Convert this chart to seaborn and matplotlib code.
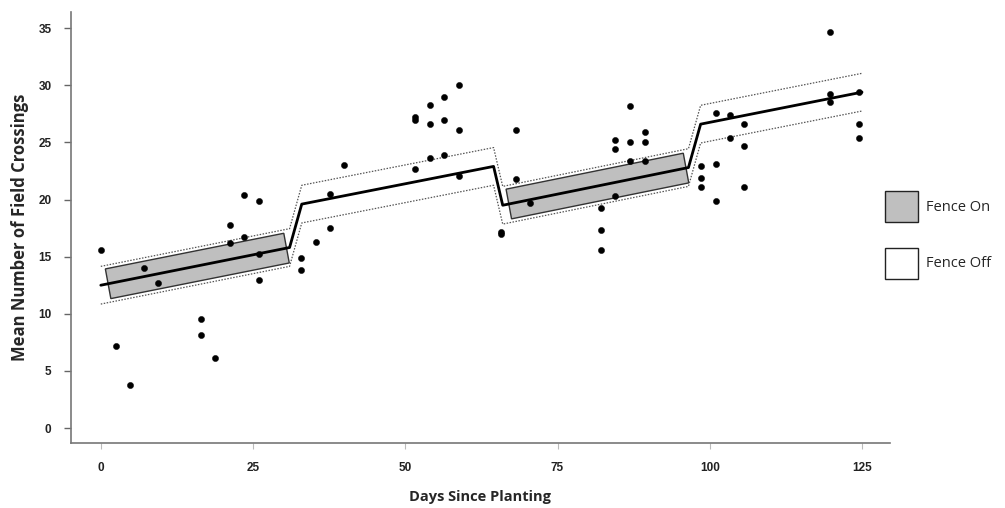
import numpy as np
import pandas as pd
import matplotlib
matplotlib.use("Agg")
import matplotlib.pyplot as plt
from matplotlib.patches import Patch
import seaborn as sns

# Observed mean field crossings by day since planting
obs_days = [0.0, 2.5, 4.8, 7.1, 9.4, 16.5, 16.5, 18.8, 21.2, 21.2, 23.5, 23.5,
            26.0, 26.0, 26.0, 32.9, 32.9, 35.3, 37.6, 37.6, 39.9, 51.6, 51.6,
            51.6, 54.0, 54.0, 54.0, 56.4, 56.4, 56.4, 58.8, 58.8, 58.8, 65.7,
            65.7, 68.1, 68.1, 70.4, 82.2, 82.2, 82.2, 84.4, 84.4, 84.4, 86.9,
            86.9, 86.9, 89.3, 89.3, 89.3, 98.6, 98.6, 98.6, 101.0, 101.0,
            101.0, 103.3, 103.3, 105.6, 105.6, 105.6, 119.8, 119.8, 119.8,
            124.5, 124.5, 124.5]
obs_crossings = [15.6, 7.2, 3.8, 14.0, 12.7, 9.5, 8.1, 6.1, 17.8, 16.2, 20.4,
                 16.7, 19.9, 15.2, 13.0, 14.9, 13.8, 16.3, 20.5, 17.5, 23.0,
                 27.2, 27.0, 22.7, 28.3, 26.6, 23.6, 29.0, 27.0, 23.9, 30.0,
                 26.1, 22.1, 17.2, 17.0, 26.1, 21.8, 19.7, 19.3, 17.3, 15.6,
                 25.2, 24.4, 20.3, 28.2, 25.0, 23.4, 25.9, 25.0, 23.4, 22.9,
                 21.9, 21.1, 27.6, 23.1, 19.9, 27.4, 25.4, 26.6, 24.7, 21.1,
                 34.7, 29.2, 28.5, 29.4, 26.6, 25.4]

# Fitted model (piecewise by fence status) and its confidence half-width
fit_days = [0.0, 31.0, 33.0, 64.5, 66.0, 96.5, 98.5, 125.0]
fit_values = [12.5, 15.8, 19.6, 22.9, 19.5, 22.8, 26.6, 29.4]
ci_halfwidth = 1.65

# Periods with the fence on, and the box half-height around the fit
fence_on_periods = [(1.2, 30.5), (67.0, 96.1)]
box_halfheight = 1.3

x_ticks = [0, 25, 50, 75, 100, 125]
y_ticks = [0, 5, 10, 15, 20, 25, 30, 35]

sns.set_theme(style="ticks")
plt.rcParams["font.family"] = ["Liberation Sans", "DejaVu Sans"]

fig = plt.figure(figsize=(10.05, 5.08), dpi=100)
ax = fig.add_axes([0.0706, 0.128, 0.815, 0.848])

fit = pd.DataFrame({"day": fit_days, "value": fit_values})
fit["upper"] = fit["value"] + ci_halfwidth
fit["lower"] = fit["value"] - ci_halfwidth

# Fence-on boxes drawn around the fitted line
for start, end in fence_on_periods:
    s_val = np.interp(start, fit_days, fit_values)
    e_val = np.interp(end, fit_days, fit_values)
    shift = 0.45
    xs = [start - shift, end - shift, end + shift, start + shift]
    ys = [s_val + box_halfheight, e_val + box_halfheight,
          e_val - box_halfheight, s_val - box_halfheight]
    ax.fill(xs, ys, facecolor="#bfbfbf", edgecolor="#333333", linewidth=1.0,
            zorder=1)

# Confidence band (dotted)
for col in ["upper", "lower"]:
    sns.lineplot(data=fit, x="day", y=col, ax=ax, color="#555555",
                 linewidth=0.9, linestyle=(0, (1.2, 1.2)), zorder=2,
                 estimator=None, sort=False)

# Fitted line
sns.lineplot(data=fit, x="day", y="value", ax=ax, color="black",
             linewidth=2.0, zorder=3, estimator=None, sort=False)

# Observations
obs = pd.DataFrame({"day": obs_days, "crossings": obs_crossings})
sns.scatterplot(data=obs, x="day", y="crossings", ax=ax, color="black",
                s=20, edgecolor="black", linewidth=0.3, zorder=4)

ax.set_xlim(-4.9, 129.6)
ax.set_ylim(-1.31, 36.4)
ax.set_xticks(x_ticks)
ax.set_yticks(y_ticks)
tick_font = ["Liberation Sans Narrow", "Liberation Sans"]
ax.set_xticklabels([str(t) for t in x_ticks], fontweight="bold", fontsize=8.5,
                   family=tick_font)
ax.set_yticklabels([str(t) for t in y_ticks], fontweight="bold", fontsize=8.5,
                   family=tick_font)
ax.tick_params(axis="y", left=True, direction="out", length=5, width=1,
               color="#666666", pad=9, labelcolor="#222222")
ax.tick_params(axis="x", bottom=True, direction="out", length=4, width=0.8,
               color="#bbbbbb", pad=10, labelcolor="#222222")
sns.despine(ax=ax)
for side in ["left", "bottom"]:
    ax.spines[side].set_color("#777777")
    ax.spines[side].set_linewidth(1.2)

ax.set_xlabel("Days Since Planting", fontsize=10.5, fontweight="bold",
              family=["Open Sans", "DejaVu Sans"], labelpad=11)
ax.set_ylabel("Mean Number of Field Crossings", fontsize=12,
              fontweight="bold", family=["Open Sans", "DejaVu Sans"],
              labelpad=7)

handles = [Patch(facecolor="#bfbfbf", edgecolor="#222222", linewidth=1.0),
           Patch(facecolor="white", edgecolor="#222222", linewidth=1.0)]
leg = fig.legend(handles, ["Fence On", "Fence Off"], loc="upper left",
                 bbox_to_anchor=(0.868, 0.65), frameon=False,
                 handlelength=2.25, handleheight=2.9, labelspacing=1.75,
                 handletextpad=0.5,
                 prop={"family": ["Open Sans", "DejaVu Sans"], "size": 10.5})

fig.savefig("out.png", dpi=100)
